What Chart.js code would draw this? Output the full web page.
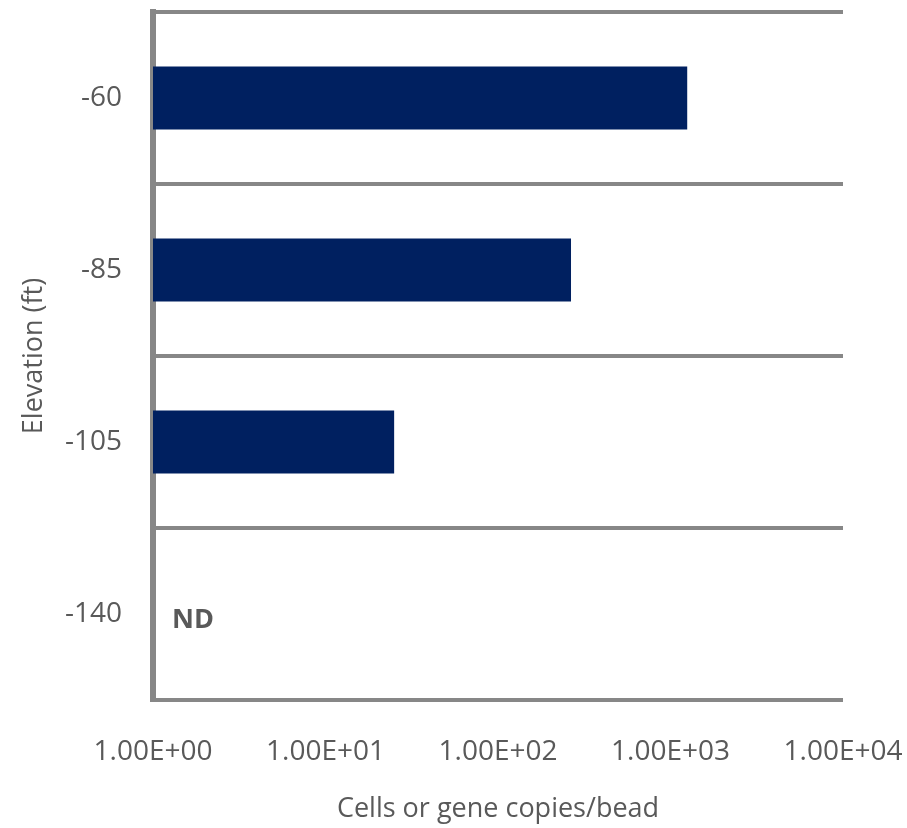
<!DOCTYPE html>
<html>
<head>
<meta charset="utf-8">
<title>Cells or gene copies per bead by elevation</title>
<script src="https://cdn.jsdelivr.net/npm/chart.js@4/dist/chart.umd.min.js"></script>
<style>
  html, body { margin: 0; padding: 0; background: #ffffff; }
  #wrap { width: 907px; height: 828px; }
</style>
</head>
<body>
<div id="wrap"><canvas id="chart" width="907" height="828"></canvas></div>
<script>
// Elevation categories (ft) and measured abundance per bead
const elevations = ['-60', '-85', '-105', '-140'];
const copiesPerBead = [1250, 265, 25, null];   // -140 ft: not detected
const notDetectedLabel = 'ND';
const notDetectedIndex = 3;

// Log axis ticks and their printed form
const xTickValues = [1, 10, 100, 1000, 10000];
const xTickLabels = ['1.00E+00', '1.00E+01', '1.00E+02', '1.00E+03', '1.00E+04'];

const xTitle = 'Cells or gene copies/bead';
const yTitle = 'Elevation (ft)';

const textColor = '#595959';
const lineColor = '#878787';
const barColor = '#002060';
const fontFamily = "'Open Sans', 'DejaVu Sans', sans-serif";

// Writes "ND" in the row that has no measured value
const notDetectedPlugin = {
  id: 'notDetected',
  afterDatasetsDraw(chart) {
    const { ctx, scales } = chart;
    const x = scales.x.getPixelForValue(1) + 19;
    const y = scales.y.getPixelForValue(notDetectedIndex) + 6;
    ctx.save();
    ctx.font = "bold 27px " + fontFamily;
    ctx.fillStyle = textColor;
    ctx.textAlign = 'left';
    ctx.textBaseline = 'middle';
    ctx.fillText(notDetectedLabel, x, y);
    ctx.restore();
  }
};

new Chart(document.getElementById('chart'), {
  type: 'bar',
  data: {
    labels: elevations,
    datasets: [{
      data: copiesPerBead,
      backgroundColor: barColor,
      borderWidth: 0,
      categoryPercentage: 1,
      barPercentage: 0.366
    }]
  },
  options: {
    indexAxis: 'y',
    responsive: false,
    animation: false,
    layout: { padding: { top: 12, right: 64, left: 0, bottom: 0 } },
    plugins: {
      legend: { display: false },
      tooltip: { enabled: false }
    },
    scales: {
      x: {
        type: 'logarithmic',
        min: 1,
        max: 10000,
        afterBuildTicks(scale) {
          scale.ticks = xTickValues.map(v => ({ value: v, major: true }));
        },
        afterFit(scale) {
          scale.height = 128;
          scale.paddingLeft = 0;
          scale.paddingRight = 0;
        },
        grid: { display: false, drawTicks: false },
        border: { display: false },
        ticks: {
          autoSkip: false,
          maxRotation: 0,
          padding: 35,
          color: textColor,
          font: { family: fontFamily, size: 28 },
          callback(value) {
            const i = xTickValues.indexOf(value);
            return i >= 0 ? xTickLabels[i] : '';
          }
        },
        title: {
          display: true,
          text: xTitle,
          color: textColor,
          font: { family: fontFamily, size: 27 },
          padding: { top: 0, bottom: 2 }
        }
      },
      y: {
        type: 'category',
        z: 1,
        offset: true,
        afterFit(scale) {
          scale.width = 153;
          scale.paddingTop = 0;
          scale.paddingBottom = 0;
        },
        grid: {
          display: true,
          offset: true,
          color: lineColor,
          lineWidth: 4,
          drawTicks: false
        },
        border: { display: true, color: lineColor, width: 6 },
        ticks: {
          padding: 31,
          color: textColor,
          font: { family: fontFamily, size: 28 }
        },
        title: {
          display: true,
          text: yTitle,
          color: textColor,
          font: { family: fontFamily, size: 27 },
          padding: { top: 18, bottom: 0 }
        }
      }
    }
  },
  plugins: [notDetectedPlugin]
});
</script>
</body>
</html>
